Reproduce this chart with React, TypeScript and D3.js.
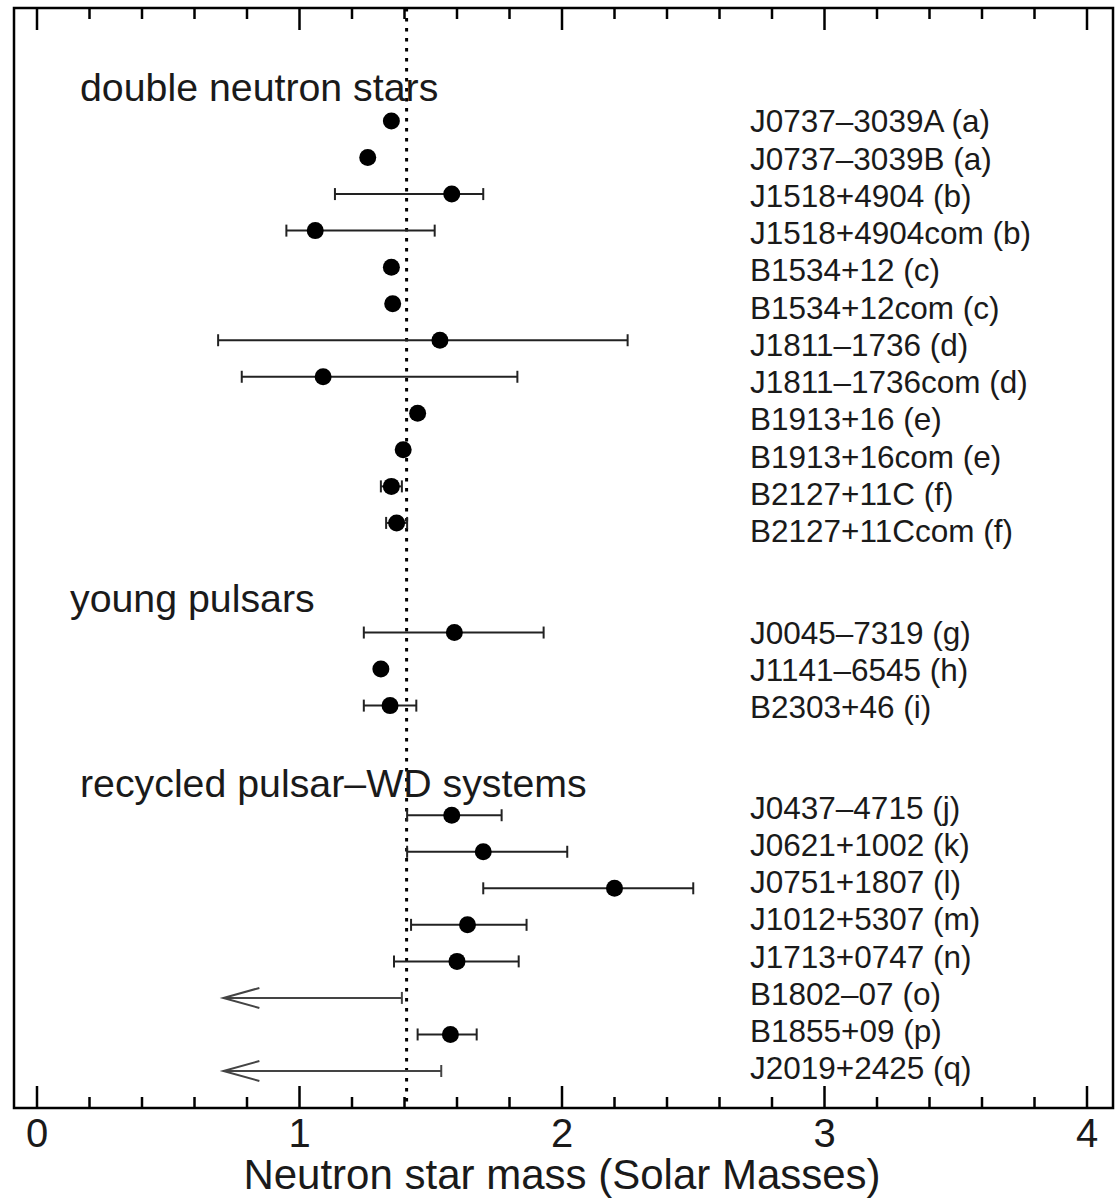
import React from "react";
import * as d3 from "d3";

// ---- data ----
const pulsarNames = [
  "J0737\u20133039A (a)", "J0737\u20133039B (a)", "J1518+4904 (b)", "J1518+4904com (b)",
  "B1534+12 (c)", "B1534+12com (c)", "J1811\u20131736 (d)", "J1811\u20131736com (d)",
  "B1913+16 (e)", "B1913+16com (e)", "B2127+11C (f)", "B2127+11Ccom (f)",
  "J0045\u20137319 (g)", "J1141\u20136545 (h)", "B2303+46 (i)",
  "J0437\u20134715 (j)", "J0621+1002 (k)", "J0751+1807 (l)", "J1012+5307 (m)",
  "J1713+0747 (n)", "B1802\u201307 (o)", "B1855+09 (p)", "J2019+2425 (q)",
];
const pulsarGroup = [0,0,0,0,0,0,0,0,0,0,0,0, 1,1,1, 2,2,2,2,2,2,2,2];
const massValue: (number | null)[] = [
  1.35, 1.26, 1.58, 1.06, 1.35, 1.355, 1.535, 1.09, 1.45, 1.395, 1.35, 1.37,
  1.59, 1.31, 1.345,
  1.58, 1.70, 2.20, 1.64, 1.60, null, 1.575, null,
];
const massLower: (number | null)[] = [
  null, null, 1.135, 0.95, null, null, 0.69, 0.78, null, null, 1.31, 1.33,
  1.245, null, 1.245,
  1.41, 1.41, 1.70, 1.425, 1.36, null, 1.45, null,
];
const massUpper: (number | null)[] = [
  null, null, 1.70, 1.515, null, null, 2.25, 1.83, null, null, 1.39, 1.41,
  1.93, null, 1.445,
  1.77, 2.02, 2.50, 1.865, 1.835, 1.39, 1.675, 1.54,
];
const upperLimitArrowTo = 0.71;
const groupLabels = ["double neutron stars", "young pulsars", "recycled pulsar\u2013WD systems"];
const referenceMass = 1.408;
const xMajorTicks = [0, 1, 2, 3, 4];
const xMinorTicks = d3.range(0, 4.0001, 0.2);
const xTitle = "Neutron star mass (Solar Masses)";

// ---- layout ----
const W = 1117, H = 1199;
const frame = { left: 14, right: 1113, top: 8, bottom: 1108 };
const groupGap = 2; // empty rows between groups
const groupLabelRow = [-0.55, 13.43, 18.5];
const groupLabelX = [80, 70, 80];
const labelShift = [0, 0, -8];
const labelStep = 37.25;
const font = "'Liberation Sans', Arial, Helvetica, sans-serif";
const ink = "#1a1a1a";

export default function App() {
  const x = d3.scaleLinear().domain([0, 4]).range([37, 1087]);
  const rowIndex = pulsarGroup.map((g, i) => i + g * groupGap);
  const y = d3.scaleLinear().domain([0, 26]).range([121, 1071]);

  const firstInGroup = groupLabels.map((_, g) => pulsarGroup.indexOf(g));
  const labelY = (i: number) => {
    const g = pulsarGroup[i];
    const f = firstInGroup[g];
    return y(rowIndex[f]) + labelShift[g] + (i - f) * labelStep;
  };

  const fsLabel = 31.5, fsGroup = 39.3, fsTick = 40, fsTitle = 42;

  return (
    <svg width={W} height={H} style={{ position: "absolute", left: 0, top: 0, background: "#fff" }}
      fontFamily={font}>
      <rect x={0} y={0} width={W} height={H} fill="#fff" />
      <line x1={x(referenceMass)} x2={x(referenceMass)} y1={frame.top} y2={frame.bottom}
        stroke="#000" strokeWidth={3} strokeDasharray="3.5 6.5" />
      {xMinorTicks.map((t, i) => {
        const major = Math.abs(t - Math.round(t)) < 1e-6;
        const len = major ? 22 : 11;
        return (
          <g key={"t" + i}>
            <line x1={x(t)} x2={x(t)} y1={frame.bottom} y2={frame.bottom - len} stroke="#000" strokeWidth={2.5} />
            <line x1={x(t)} x2={x(t)} y1={frame.top} y2={frame.top + len} stroke="#000" strokeWidth={2.5} />
          </g>
        );
      })}
      {xMajorTicks.map((t) => (
        <text key={"tl" + t} x={x(t)} y={1147} textAnchor="middle" fontSize={fsTick} fill={ink}>{t}</text>
      ))}
      <text x={x(2)} y={1189} textAnchor="middle" fontSize={fsTitle} fill={ink}>{xTitle}</text>
      {groupLabels.map((g, i) => (
        <text key={"g" + i} x={groupLabelX[i]} y={y(groupLabelRow[i])}
          fontSize={fsGroup} fill={ink}>{g}</text>
      ))}
      {pulsarNames.map((_, i) => {
        const yy = y(rowIndex[i]);
        const lo = massLower[i], hi = massUpper[i], v = massValue[i];
        if (v === null && hi !== null) {
          const x0 = x(upperLimitArrowTo), x1 = x(hi);
          return (
            <g key={"e" + i} stroke="#444" strokeWidth={2} fill="none">
              <line x1={x0} x2={x1} y1={yy} y2={yy} />
              <line x1={x1} x2={x1} y1={yy - 6} y2={yy + 6} />
              <polyline points={`${x0 + 36},${yy - 10} ${x0},${yy} ${x0 + 36},${yy + 10}`} />
            </g>
          );
        }
        if (lo === null || hi === null) return null;
        return (
          <g key={"e" + i} stroke="#222" strokeWidth={2}>
            <line x1={x(lo)} x2={x(hi)} y1={yy} y2={yy} />
            <line x1={x(lo)} x2={x(lo)} y1={yy - 6} y2={yy + 6} />
            <line x1={x(hi)} x2={x(hi)} y1={yy - 6} y2={yy + 6} />
          </g>
        );
      })}
      {pulsarNames.map((_, i) => {
        const v = massValue[i];
        if (v === null) return null;
        return <circle key={"p" + i} cx={x(v)} cy={y(rowIndex[i])} r={8.5} fill="#000" />;
      })}
      {pulsarNames.map((n, i) => (
        <text key={"l" + i} x={750} y={labelY(i) + 0.36 * fsLabel} fontSize={fsLabel} fill={ink}>{n}</text>
      ))}
      <rect x={frame.left} y={frame.top} width={frame.right - frame.left} height={frame.bottom - frame.top}
        fill="none" stroke="#000" strokeWidth={2.5} />
    </svg>
  );
}
